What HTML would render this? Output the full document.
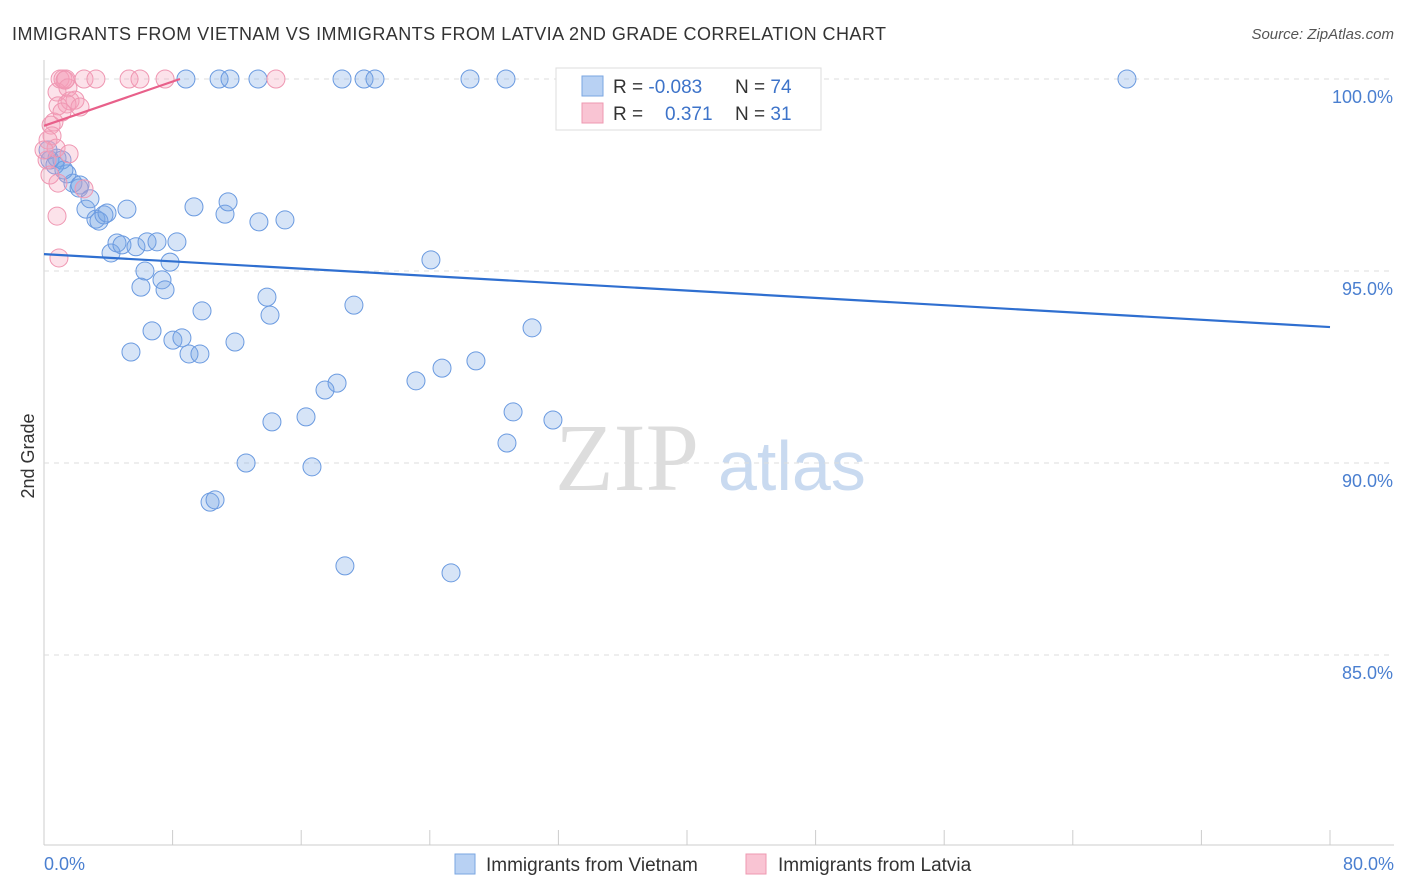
<!DOCTYPE html>
<html><head><meta charset="utf-8"><style>
body{margin:0;background:#fff;font-family:"Liberation Sans",sans-serif;}
svg{display:block}
</style></head><body>
<svg id="c" width="1406" height="892" xmlns="http://www.w3.org/2000/svg">
<text x="12" y="40" font-size="18" fill="#333" textLength="874" lengthAdjust="spacing">IMMIGRANTS FROM VIETNAM VS IMMIGRANTS FROM LATVIA 2ND GRADE CORRELATION CHART</text>
<text x="1394" y="39" font-size="15" fill="#555" text-anchor="end" font-style="italic">Source: ZipAtlas.com</text>
<text x="34" y="456" font-size="18" fill="#333" text-anchor="middle" transform="rotate(-90 34 456)">2nd Grade</text>
<text x="555" y="490" font-size="96" fill="#ddd" font-family="Liberation Serif,serif">ZIP</text>
<text x="718" y="490" font-size="70" fill="#c9daf0">atlas</text>
<g id="grid"></g><g id="pts"></g><g id="lines"></g>
<text x="44" y="870" font-size="18" fill="#4a7fd0">0.0%</text>
<text x="1394" y="870" font-size="18" fill="#4a7fd0" text-anchor="end">80.0%</text>
<g>
<rect x="556" y="68" width="265" height="62" fill="#fff" stroke="#ddd"/>
<rect x="582" y="76" width="21" height="20" fill="#b8d1f3" stroke="#7aa6e2"/>
<rect x="582" y="103" width="21" height="20" fill="#f9c4d3" stroke="#ee98b0"/>
<text x="613" y="93" font-size="19" fill="#333">R = <tspan fill="#3d73c9">-0.083</tspan></text>
<text x="735" y="93" font-size="19" fill="#333">N = <tspan fill="#3d73c9">74</tspan></text>
<text x="613" y="120" font-size="19" fill="#333">R = <tspan x="665" fill="#3d73c9">0.371</tspan></text>
<text x="735" y="120" font-size="19" fill="#333">N = <tspan fill="#3d73c9">31</tspan></text>
</g>
<g>
<rect x="455" y="854" width="20" height="20" fill="#b8d1f3" stroke="#7aa6e2"/>
<text x="486" y="871" font-size="19" fill="#333">Immigrants from Vietnam</text>
<rect x="746" y="854" width="20" height="20" fill="#f9c4d3" stroke="#ee98b0"/>
<text x="778" y="871" font-size="19" fill="#333">Immigrants from Latvia</text>
</g>
</svg>
<script>
const yTicks=[100,95,90,85];
const yTickLabels=["100.0%","95.0%","90.0%","85.0%"];
const xTicks=[0,8,16,24,32,40,48,56,64,72,80];
const bluePx=[[186,79],[219,79],[230,79],[258,79],[342,79],[364,79],[375,79],[470,79],[506,79],[738,79],[1127,79],[50,160],[57,158],[62,160],[67,174],[73,183],[79,188],[86,209],[90,199],[96,219],[99,221],[104,215],[107,213],[111,253],[117,243],[122,245],[127,209],[136,247],[147,242],[157,242],[177,242],[145,271],[162,280],[165,290],[170,262],[141,287],[194,207],[225,214],[228,202],[259,222],[285,220],[431,260],[152,331],[131,352],[173,340],[182,338],[189,354],[200,354],[202,311],[235,342],[267,297],[270,315],[354,305],[532,328],[476,361],[442,368],[416,381],[337,383],[325,390],[306,417],[272,422],[553,420],[513,412],[507,443],[246,463],[312,467],[210,502],[215,500],[345,566],[451,573],[48,150],[55,165],[64,170],[80,185]];
const pinkPx=[[60,79],[63,79],[66,79],[84,79],[96,79],[129,79],[140,79],[165,79],[276,79],[57,92],[68,88],[58,106],[70,101],[75,100],[67,104],[80,107],[51,125],[54,122],[52,136],[48,140],[56,148],[69,154],[47,160],[50,175],[58,183],[84,189],[57,216],[59,258],[44,150],[62,112],[65,80]];
const blueX=bluePx.map(p=>+((p[0]-44)/16.075).toFixed(2));
const blueY=bluePx.map(p=>+(100-(p[1]-79)/38.4).toFixed(2));
const pinkX=pinkPx.map(p=>+((p[0]-44)/16.075).toFixed(2));
const pinkY=pinkPx.map(p=>+(100-(p[1]-79)/38.4).toFixed(2));
const blueTrend=[95.44,93.54];
const pinkTrend=[98.78,100,8.46];
const X=v=>44+v*(1286/80), Y=v=>79+(100-v)*38.4;
const NS="http://www.w3.org/2000/svg";
function mk(t,a,parent){const e=document.createElementNS(NS,t);for(const k in a)e.setAttribute(k,a[k]);parent.appendChild(e);return e;}
const grid=document.getElementById('grid');
mk('line',{x1:44,y1:60,x2:44,y2:845,stroke:'#ccc'},grid);
mk('line',{x1:44,y1:845,x2:1394,y2:845,stroke:'#ccc'},grid);
yTicks.forEach((t,i)=>{
 const l=mk('line',{x1:44,y1:Y(t),x2:1394,y2:Y(t),stroke:'#ddd','stroke-dasharray':'5,5'},grid);
 
 
 const tx=mk('text',{x:1393,y:Y(t)+24,'font-size':18,fill:'#4a7fd0','text-anchor':'end'},grid);
 tx.textContent=yTickLabels[i];
 
 
});
xTicks.forEach(t=>{
 const l=mk('line',{x1:X(t),y1:830,x2:X(t),y2:845,stroke:'#ccc'},grid);
 
 
});
const pts=document.getElementById('pts');
blueX.forEach((x,i)=>{
 const c=mk('circle',{cx:X(x),cy:Y(blueY[i]),r:9,fill:'rgba(120,165,230,0.3)',stroke:'#6a9ae0','stroke-width':1},pts);
 
 
});
pinkX.forEach((x,i)=>{
 const c=mk('circle',{cx:X(x),cy:Y(pinkY[i]),r:9,fill:'rgba(245,160,185,0.3)',stroke:'#ef97b2','stroke-width':1},pts);
 
 
});
const lines=document.getElementById('lines');
const bl=mk('line',{x1:X(0),y1:Y(blueTrend[0]),x2:X(80),y2:Y(blueTrend[1]),stroke:'#2f6fd0','stroke-width':2.2},lines);


const pl=mk('line',{x1:X(0),y1:Y(pinkTrend[0]),x2:X(pinkTrend[2]),y2:Y(pinkTrend[1]),stroke:'#e8608a','stroke-width':2.2},lines);


</script>
</body></html>
